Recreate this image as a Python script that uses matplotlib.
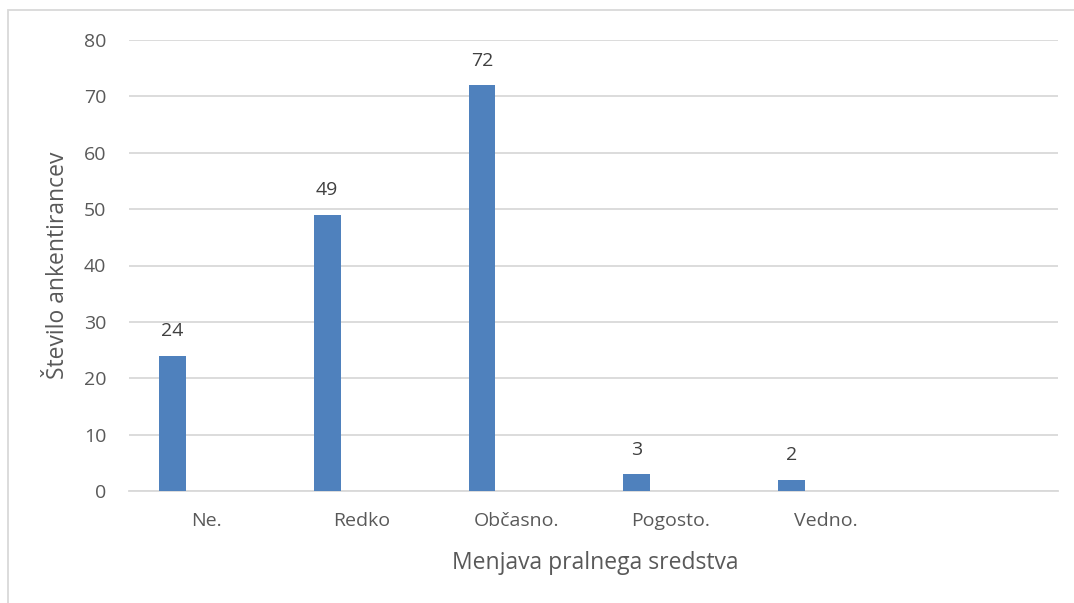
import matplotlib
matplotlib.use("Agg")
import matplotlib.pyplot as plt
from matplotlib.patches import Rectangle
import numpy as np

categories = ["Ne.", "Redko", "Občasno.", "Pogosto.", "Vedno.", ""]
values = [24, 49, 72, 3, 2, None]
yticks = [0, 10, 20, 30, 40, 50, 60, 70, 80]
xlabel = "Menjava pralnega sredstva"
ylabel = "Število ankentirancev"

plt.rcParams['font.family'] = ['Open Sans', 'DejaVu Sans']

W, H = 1074, 603
fig = plt.figure(figsize=(W / 100, H / 100), dpi=100)
ax = fig.add_axes([129 / W, 1 - 491 / H, (1058 - 129) / W, (491 - 40) / H])

x = np.arange(len(categories))
offset = -0.22
width = 0.174
xs = [xi + offset for xi, v in zip(x, values) if v is not None]
vs = [v for v in values if v is not None]
bars = ax.bar(xs, vs, width=width, color="#4f81bd", zorder=3)
for b, v in zip(bars, vs):
    ax.annotate(str(v), (b.get_x() + b.get_width() / 2, v), xytext=(0, 11),
                textcoords="offset points", ha="center", va="bottom",
                fontsize=14, color="#404040")

ax.set_xlim(-0.5, len(categories) - 0.5)
ax.set_ylim(0, 80)
ax.set_yticks(yticks)
ax.set_xticks(x)
ax.set_xticklabels(categories)
ax.yaxis.grid(True, color="#d9d9d9", linewidth=1.3, zorder=0)
ax.set_axisbelow(True)
for s in ["top", "right", "left"]:
    ax.spines[s].set_visible(False)
ax.spines["bottom"].set_color("#d9d9d9")
ax.spines["bottom"].set_linewidth(1.3)
ax.tick_params(axis="both", length=0, labelsize=14, labelcolor="#595959")
ax.tick_params(axis="y", pad=16.5)
ax.tick_params(axis="x", pad=15)
ax.set_xlabel(xlabel, fontsize=16.5, color="#595959", va="center")
ax.set_ylabel(ylabel, fontsize=16.5, color="#595959", va="center")
ax.xaxis.set_label_coords((595 - 129) / 929, (491 - 563) / 451)
ax.yaxis.set_label_coords((58 - 129) / 929, 0.5)

fig.patches.append(Rectangle((8 / W, -0.1), 1.2, 1.1 - 10 / H, transform=fig.transFigure,
                             fill=False, edgecolor="#d9d9d9", linewidth=1.3))

fig.savefig("out.png", dpi=100)
